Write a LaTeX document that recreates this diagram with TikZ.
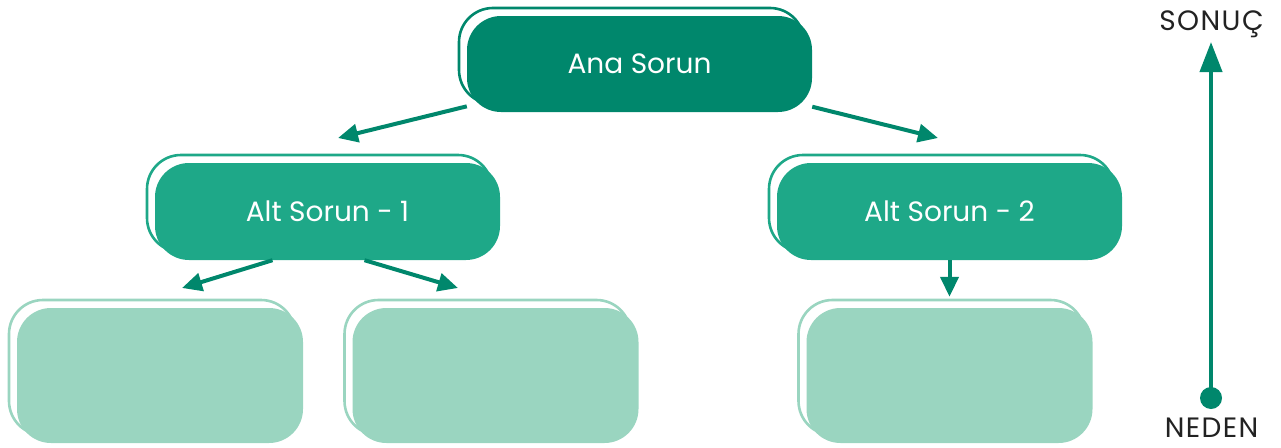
\documentclass[tikz,border=0pt]{standalone}
\usepackage{fontspec}
\setmainfont{Poppins}
\newfontfamily\etiketfont[LetterSpace=5]{Poppins}
\usetikzlibrary{arrows.meta,shadows}
\definecolor{koyuyesil}{RGB}{0,135,108}
\definecolor{ortayesil}{RGB}{30,168,136}
\definecolor{acikyesil}{RGB}{154,213,192}
\definecolor{yazigri}{RGB}{34,34,34}
\tikzset{
    %Define standard arrow tip
    >={Triangle[length=20pt,width=18pt]},
    %Define style for boxes, an outline copy sits behind each one
    kutu/.style={
           rectangle,
           rounded corners=34pt,
           fill=#1,
           text=white,
           font=\fontsize{28}{32}\selectfont,
           copy shadow={shadow xshift=-8pt, shadow yshift=8pt,
                        fill=white, draw=#1, line width=2.6pt}},
    anakutu/.style={kutu=koyuyesil, minimum width=345pt, minimum height=96pt},
    altkutu/.style={kutu=ortayesil, minimum width=345pt, minimum height=97pt},
    boskutu/.style={kutu=acikyesil, minimum width=286pt, minimum height=135pt},
    % Define arrow style
    pil/.style={
           ->,
           line width=4pt,
           draw=koyuyesil},
    etiket/.style={
           text=yazigri,
           inner sep=0pt,
           font=\etiketfont\fontsize{28}{32}\selectfont}
}
\begin{document}
\begin{tikzpicture}[x=1pt, y=-1pt]
  \useasboundingbox (0,0) rectangle (1281,447);
  % tree of problems
  \node[anakutu] (ana) at (639.5,64) {Ana Sorun};
  \node[altkutu] (alt1) at (327.5,211.5) {Alt Sorun - 1};
  \node[altkutu] (alt2) at (949.5,211.5) {Alt Sorun - 2};
  \node[boskutu] (b1) at (160,375.5) {};
  \node[boskutu] (b2) at (495.5,375.5) {};
  \node[boskutu] (b3) at (949.5,375.5) {};
  \coordinate (u1) at (338,138);
  \coordinate (u2) at (938,138);
  \coordinate (u3) at (182,288);
  \coordinate (u4) at (458,288);
  \draw[pil] (ana) -- (u1);
  \draw[pil] (ana) -- (u2);
  \draw[pil] ([xshift=-55pt]alt1.south) -- (u3);
  \draw[pil] ([xshift=37pt]alt1.south) -- (u4);
  \draw[pil, shorten >=11pt] (alt2) -- (b3);
  % cause -> effect axis
  \node[etiket, anchor=base] (sonuc) at (1211.5,30) {SONUÇ};
  \node[etiket, anchor=base] (neden) at (1211.5,437) {NEDEN};
  \node[circle, fill=koyuyesil, minimum size=22pt, inner sep=0pt] (nokta) at (1211,398) {};
  \coordinate (tepe) at (1211,42);
  \draw[pil, -{Triangle[length=30pt,width=22pt]}] (nokta.center) -- (tepe);
\end{tikzpicture}
\end{document}
